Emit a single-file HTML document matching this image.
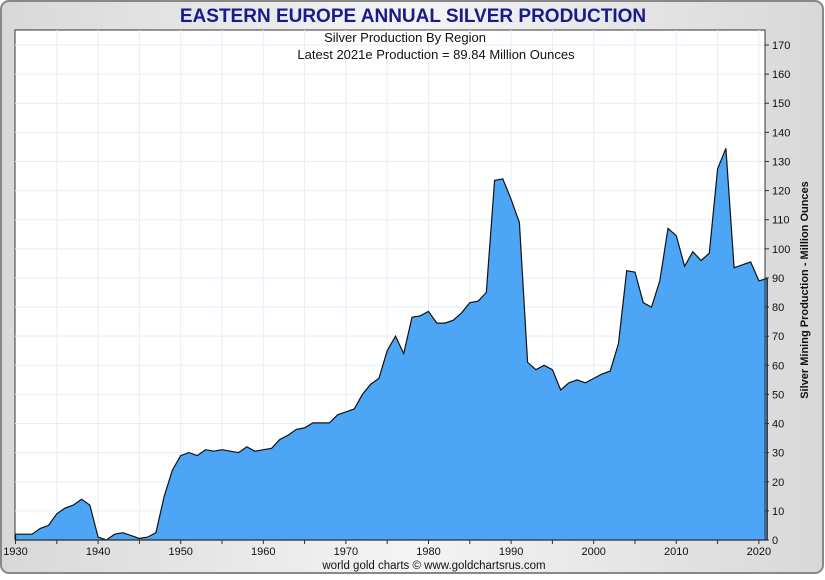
<!DOCTYPE html>
<html><head><meta charset="utf-8"><style>
body{margin:0;background:#fff;font-family:"Liberation Sans",Arial,sans-serif}
svg text{font-family:"Liberation Sans",Arial,sans-serif}
</style></head><body>
<svg id="c" width="825" height="575" xmlns="http://www.w3.org/2000/svg">
<defs><linearGradient id="bg" x1="0" y1="0" x2="1" y2="0"><stop offset="0" stop-color="#d8d8d8"/><stop offset="0.5" stop-color="#f4f4f4"/><stop offset="1" stop-color="#d8d8d8"/></linearGradient></defs>
<rect x="1" y="1" width="822" height="572" rx="8" fill="url(#bg)" stroke="#888" stroke-width="2"/>
<text x="413" y="22" text-anchor="middle" font-size="19" font-weight="bold" fill="#1a1a8c">EASTERN EUROPE ANNUAL SILVER PRODUCTION</text>
<rect x="15" y="30" width="750" height="510" fill="#fff" stroke="#333" stroke-width="1"/>
<g id="grid"></g>
<path id="area" fill="#4da6f5" stroke="#111" stroke-width="1.2"/>
<line x1="765" y1="30" x2="765" y2="540" stroke="#333"/>
<line x1="15" y1="540" x2="765" y2="540" stroke="#333"/>
<g id="ticks"></g>
<text x="405" y="42" text-anchor="middle" font-size="13" fill="#111">Silver Production By Region</text>
<text x="436" y="59" text-anchor="middle" font-size="13" fill="#111">Latest 2021e Production = 89.84 Million Ounces</text>
<text transform="translate(808,290) rotate(-90)" text-anchor="middle" font-size="11" font-weight="bold" fill="#111">Silver Mining Production - Million Ounces</text>
<text x="434" y="569" text-anchor="middle" font-size="11.5" fill="#111">world gold charts © www.goldchartsrus.com</text>
</svg>
<script>
const years=[];for(let y=1930;y<=2021;y++)years.push(y);
const values=[2,2,2,4,5,9,11,12,14,12,1,0,2,2.5,1.5,0.5,1,2.5,15,24,29,30,29,31,30.5,31,30.5,30,32,30.5,31,31.5,34.5,36,38,38.5,40.2,40.2,40.2,43,44,45,50,53.5,55.5,65,70,64,76.5,77,78.5,74.5,74.5,75.5,78,81.5,82,85,123.5,124,117,109,61,58.5,60,58.5,51.5,54,55,54,55.5,57,58,67.5,92.5,92,81.5,80,89,107,104.5,94,99,96,98.5,127.5,134.5,93.5,94.5,95.5,89,89.84];
const yTicks=[0,10,20,30,40,50,60,70,80,90,100,110,120,130,140,150,160,170];
const xLabels=[1930,1940,1950,1960,1970,1980,1990,2000,2010,2020];
const X=y=>15.5+(y-1930)*8.26;
const Y=v=>540-v*495/170;
const NS="http://www.w3.org/2000/svg";
const grid=document.getElementById('grid'),ticks=document.getElementById('ticks');
function mk(tag,at,parent){const e=document.createElementNS(NS,tag);for(const k in at)e.setAttribute(k,at[k]);parent.appendChild(e);return e;}
yTicks.forEach(v=>{
 const l=mk('line',{x1:15,x2:765,y1:Y(v),y2:Y(v),stroke:'#e3eef8'},grid);
 
 
 const t=mk('line',{x1:765,x2:769,y1:Y(v),y2:Y(v),stroke:'#333'},ticks);
 
 
 const tx=mk('text',{x:772,y:Y(v)+4,'font-size':11,fill:'#111'},ticks);tx.textContent=v;
 
 
});
for(let y=1935;y<=2020;y+=5){
 const l=mk('line',{x1:X(y),x2:X(y),y1:30,y2:540,stroke:'#e3eef8'},grid);
 
 
}
for(let y=1930;y<=2020;y+=5){
 const t=mk('line',{x1:X(y),x2:X(y),y1:540,y2:544,stroke:'#333'},ticks);
 
 
}
xLabels.forEach(y=>{
 const tx=mk('text',{x:X(y),y:555,'font-size':11,fill:'#111','text-anchor':'middle'},ticks);tx.textContent=y;
 
 
});
let d='M'+X(years[0])+','+Y(0);
years.forEach((y,i)=>{d+=' L'+X(y).toFixed(1)+','+Y(values[i]).toFixed(1);});
d+=' L'+X(years[years.length-1])+','+Y(0)+' Z';
document.getElementById('area').setAttribute('d',d);
</script>
</body></html>
